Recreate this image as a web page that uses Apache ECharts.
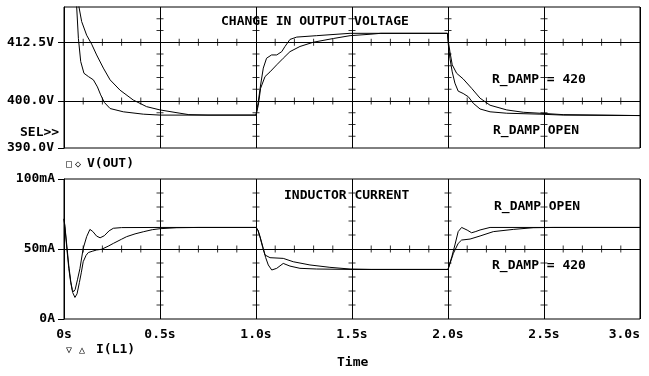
<!DOCTYPE html>
<html>
<head>
<meta charset="UTF-8">
<title>V(OUT) / I(L1)</title>
<script src="https://cdn.jsdelivr.net/npm/echarts@6/dist/echarts.min.js"></script>
<style>html,body{margin:0;padding:0;background:#fff;}</style>
</head>
<body>
<div id="chart" style="width:649px;height:376px;"></div>
<script>
// ---- values (time in s) ----
var tVOpen = [0, 0.04, 0.055, 0.066, 0.075, 0.087, 0.104, 0.127, 0.153, 0.174, 0.191, 0.21, 0.24, 0.309, 0.413, 0.5,
  1.0, 1.003, 1.012, 1.024, 1.038, 1.055, 1.081, 1.108, 1.134, 1.151, 1.177, 1.212, 1.316, 1.49,
  1.997, 2.002, 2.01, 2.022, 2.036, 2.053, 2.079, 2.106, 2.132, 2.167, 2.219, 2.306, 2.479, 2.6, 3.0];
var vOutOpen = [470, 440, 428, 420, 413.3, 408.4, 405.9, 405.2, 404.5, 403.0, 401.3, 399.7, 398.4, 397.7, 397.2, 397.0,
  397.0, 397.7, 399.9, 403.4, 407.0, 409.1, 409.8, 409.8, 410.5, 411.6, 413.1, 413.6, 413.9, 414.4,
  414.4, 411.9, 409.1, 406.2, 403.8, 402.1, 401.6, 400.9, 399.5, 398.3, 397.7, 397.4, 397.2, 397.0, 396.9];

var tVDamp = [0, 0.04, 0.06, 0.078, 0.092, 0.118, 0.144, 0.17, 0.205, 0.24, 0.292, 0.361, 0.43, 0.5, 0.604, 0.65, 0.75,
  1.0, 1.003, 1.012, 1.024, 1.047, 1.073, 1.108, 1.142, 1.177, 1.229, 1.298, 1.403, 1.49, 1.594, 1.65,
  1.997, 2.002, 2.01, 2.022, 2.045, 2.079, 2.123, 2.167, 2.219, 2.306, 2.392, 2.479, 2.6, 3.0];
var vOutDamp = [460, 438, 428, 420, 416.9, 414.0, 412.1, 409.8, 407.0, 404.5, 402.3, 400.2, 398.8, 398.1, 397.4, 397.1, 397.0,
  397.0, 397.5, 399.1, 402.7, 405.2, 406.2, 407.7, 409.1, 410.5, 411.6, 412.5, 413.3, 413.9, 414.2, 414.4,
  414.4, 412.6, 410.5, 407.7, 405.9, 404.7, 402.7, 400.6, 399.1, 398.1, 397.6, 397.4, 397.1, 396.9];

var tIOpen = [0, 0.005, 0.015, 0.025, 0.035, 0.043, 0.05, 0.058, 0.07, 0.083, 0.1, 0.118, 0.135, 0.15, 0.17, 0.188, 0.21, 0.235, 0.257, 0.3, 0.5,
  1.0, 1.01, 1.021, 1.038, 1.05, 1.064, 1.082, 1.108, 1.142, 1.177, 1.229, 1.316, 1.5,
  2.0, 2.02, 2.036, 2.053, 2.071, 2.08, 2.1, 2.123, 2.145, 2.167, 2.219, 3.0];
var iL1Open = [71.5, 66, 52, 38, 27, 21, 19.5, 21, 28, 36, 50.4, 58.8, 64.0, 62.5, 59.2, 58.0, 59.5, 63, 64.8, 65.3, 65.4,
  65.4, 63.5, 58.8, 50.4, 44, 38.6, 35.0, 36.2, 39.7, 37.8, 36.2, 35.7, 35.4,
  35.4, 44.5, 52.9, 62.4, 65.4, 65.9, 63.5, 61.6, 62.5, 63.6, 65.4, 65.4];

var tIDamp = [0, 0.005, 0.015, 0.025, 0.035, 0.045, 0.057, 0.068, 0.08, 0.09, 0.1, 0.115, 0.127, 0.15, 0.17, 0.196, 0.23, 0.257, 0.3, 0.326, 0.37, 0.413, 0.46, 0.5, 0.587, 0.7,
  1.0, 1.01, 1.021, 1.035, 1.047, 1.073, 1.142, 1.194, 1.281, 1.385, 1.49, 1.6,
  2.0, 2.028, 2.053, 2.071, 2.115, 2.167, 2.236, 2.34, 2.444, 2.55, 3.0];
var iL1Damp = [71.5, 65, 50, 36, 26, 19, 15.4, 18, 26, 33, 40.9, 45.5, 47.5, 48.5, 49.3, 49.8, 52, 54, 57, 58.8, 60.8, 62.3, 63.8, 64.5, 65.2, 65.4,
  65.4, 63.5, 58.5, 51, 45.7, 43.8, 43.3, 40.9, 38.6, 36.9, 35.7, 35.4,
  35.4, 46.9, 54, 56.4, 57.1, 59.3, 62.4, 64, 65.2, 65.4, 65.4];

// ---- axes / grid values ----
var xGrid = [0.5, 1.0, 1.5, 2.0, 2.5];
var vGridLines = [400, 412.5];
var vLabels = [390, 400, 412.5];
var vMinor = [392.5, 395, 397.5, 402.5, 405, 407.5, 410, 415, 417.5];
var iGridLines = [50];
var iLabels = [0, 50, 100];
var iMinor = [10, 20, 30, 40, 60, 70, 80, 90];

var mono = 'DejaVu Sans Mono';

function zip(a, b) {
  return a.map(function (t, i) { return [t, b[i]]; });
}

// little cross ticks on the inner grid lines
function tickMarks(yMinor, hLines) {
  var d = [];
  xGrid.forEach(function (x) {
    yMinor.forEach(function (y) { d.push({ value: [x, y], symbolSize: [7, 1] }); });
  });
  hLines.forEach(function (y) {
    for (var k = 1; k < 30; k++) {
      if (k % 5) d.push({ value: [k / 10, y], symbolSize: [1, 7] });
    }
  });
  return d;
}

function gridMarkLine(vals) {
  return {
    silent: true,
    symbol: ['none', 'none'],
    label: { show: false },
    lineStyle: { color: '#000', type: 'solid', width: 1 },
    data: vals.map(function (v) { return { yAxis: v }; })
  };
}

function lineSeries(name, data, ax, ml) {
  var s = {
    name: name, type: 'line', data: data,
    xAxisIndex: ax, yAxisIndex: ax,
    showSymbol: false, symbol: 'none',
    lineStyle: { color: '#000', width: 1 },
    z: 3
  };
  if (ml) s.markLine = ml;
  return s;
}

function txt(text, x, y, size, bold) {
  return {
    type: 'text', x: x, y: y, silent: true,
    style: {
      text: text, fill: '#000',
      fontFamily: mono, fontSize: size || 13, fontWeight: bold === false ? 'normal' : 'bold',
      verticalAlign: 'middle'
    }
  };
}

var chart = echarts.init(document.getElementById('chart'));

var option = {
  animation: false,
  backgroundColor: '#fff',
  grid: [
    { left: 64, top: 7, width: 576, height: 141, show: true, borderColor: '#000', borderWidth: 1 },
    { left: 64, top: 179, width: 576, height: 140, show: true, borderColor: '#000', borderWidth: 1 }
  ],
  xAxis: [
    {
      type: 'value', gridIndex: 0, min: 0, max: 3, interval: 0.5,
      axisLine: { show: false }, axisTick: { show: false }, axisLabel: { show: false },
      splitLine: { show: true, lineStyle: { color: '#000', width: 1 } }
    },
    {
      type: 'value', gridIndex: 1, min: 0, max: 3, interval: 0.5,
      axisLine: { show: false }, axisTick: { show: false },
      axisLabel: {
        color: '#000', fontFamily: mono, fontWeight: 'bold', fontSize: 13, margin: 9,
        alignMaxLabel: 'right',
        formatter: function (v) { return v === 0 ? '0s' : v.toFixed(1) + 's'; }
      },
      splitLine: { show: true, lineStyle: { color: '#000', width: 1 } }
    }
  ],
  yAxis: [
    {
      type: 'value', gridIndex: 0, min: 390, max: 420,
      axisLine: { show: true, lineStyle: { color: '#000' } },
      axisTick: { show: true, length: 6, customValues: vLabels, lineStyle: { color: '#000' } },
      axisLabel: {
        customValues: vLabels, color: '#000', fontFamily: mono, fontWeight: 'bold', fontSize: 13, margin: 10,
        formatter: function (v) { return v.toFixed(1) + 'V'; }
      },
      splitLine: { show: false }
    },
    {
      type: 'value', gridIndex: 1, min: 0, max: 100,
      axisLine: { show: true, lineStyle: { color: '#000' } },
      axisTick: { show: true, length: 6, customValues: iLabels, lineStyle: { color: '#000' } },
      axisLabel: {
        customValues: iLabels, color: '#000', fontFamily: mono, fontWeight: 'bold', fontSize: 13, margin: 9,
        formatter: function (v) { return v === 0 ? '0A' : v + 'mA'; }
      },
      splitLine: { show: false }
    }
  ],
  series: [
    lineSeries('R_DAMP OPEN', zip(tVOpen, vOutOpen), 0, gridMarkLine(vGridLines)),
    lineSeries('R_DAMP = 420', zip(tVDamp, vOutDamp), 0),
    lineSeries('R_DAMP OPEN', zip(tIOpen, iL1Open), 1, gridMarkLine(iGridLines)),
    lineSeries('R_DAMP = 420', zip(tIDamp, iL1Damp), 1),
    {
      type: 'scatter', xAxisIndex: 0, yAxisIndex: 0, symbol: 'rect', silent: true,
      itemStyle: { color: '#000' }, data: tickMarks(vMinor, vGridLines), z: 2
    },
    {
      type: 'scatter', xAxisIndex: 1, yAxisIndex: 1, symbol: 'rect', silent: true,
      itemStyle: { color: '#000' }, data: tickMarks(iMinor, iGridLines), z: 2
    }
  ],
  graphic: [
    txt('CHANGE IN OUTPUT VOLTAGE', 221, 22),
    txt('R_DAMP = 420', 492, 80),
    txt('R_DAMP OPEN', 493, 131),
    txt('SEL>>', 20, 133),
    txt('\u25A1', 66, 164, 10, false),
    txt('\u25C7', 75, 164, 10, false),
    txt('V(OUT)', 87, 164),
    txt('INDUCTOR CURRENT', 284, 196),
    txt('R_DAMP OPEN', 494, 207),
    txt('R_DAMP = 420', 492, 266),
    txt('\u25BD', 66, 350, 10, false),
    txt('\u25B3', 79, 350, 10, false),
    txt('I(L1)', 96, 350),
    txt('Time', 337, 363)
  ]
};

chart.setOption(option);
</script>
</body>
</html>
